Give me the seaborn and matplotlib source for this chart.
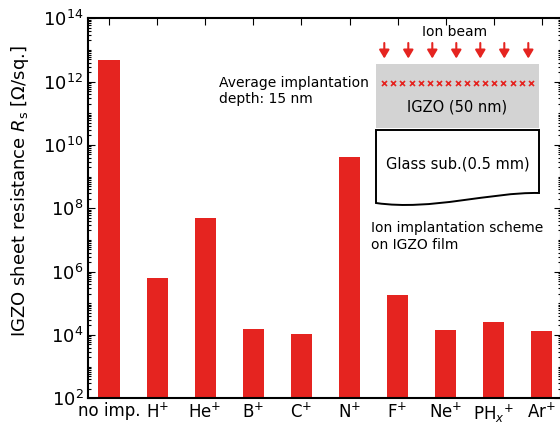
import numpy as np
import matplotlib
matplotlib.use("Agg")
import matplotlib.pyplot as plt
import pandas as pd
import seaborn as sns
from matplotlib.path import Path
from matplotlib.patches import PathPatch, Rectangle
from matplotlib.ticker import LogLocator, NullFormatter

# Sheet resistance of IGZO films after implantation of each ion species
ions = ["no imp.", "H$^{+}$", "He$^{+}$", "B$^{+}$", "C$^{+}$", "N$^{+}$",
        "F$^{+}$", "Ne$^{+}$", "PH$_{x}$$^{+}$", "Ar$^{+}$"]
sheet_res = [4.8e12, 6.2e5, 4.8e7, 1.54e4, 1.05e4, 4.1e9, 1.83e5, 1.4e4, 2.6e4, 1.38e4]
y_ticks = [1e2, 1e4, 1e6, 1e8, 1e10, 1e12, 1e14]

RED = "#e52420"

sns.set_style("ticks")
plt.rcParams["font.family"] = ["DejaVu Sans"]
plt.rcParams["text.color"] = "black"
plt.rcParams["xtick.color"] = "black"
plt.rcParams["ytick.color"] = "black"
plt.rcParams["axes.labelcolor"] = "black"

fig = plt.figure(figsize=(5.6, 4.26), dpi=100)
W, H = 560, 426
ax = fig.add_axes([87.5 / W, 1 - 398.3 / H, (561 - 87.5) / W, (398.3 - 18.3) / H])

df = pd.DataFrame({"ion": ions, "rs": sheet_res})
sns.barplot(data=df, x="ion", y="rs", color=RED, saturation=1, width=0.44,
            errorbar=None, ax=ax, linewidth=0)
ax.set_yscale("log")
ax.set_ylim(y_ticks[0], y_ticks[-1])
ax.set_yticks(y_ticks)
ax.yaxis.set_minor_locator(LogLocator(base=10, subs=np.arange(1, 10), numticks=100))
ax.yaxis.set_minor_formatter(NullFormatter())
ax.set_xlim(-0.447, 9.397)
ax.set_xlabel("")
ax.set_ylabel("")

for sp in ax.spines.values():
    sp.set_linewidth(1.5)
    sp.set_color("black")
ax.tick_params(axis="y", which="both", direction="in", left=True, right=True,
               labelsize=13, pad=3, width=0.8, colors="black")
ax.tick_params(axis="y", which="major", length=5)
ax.tick_params(axis="y", which="minor", length=2.5)
ax.tick_params(axis="x", direction="in", top=True, bottom=False, length=5,
               width=0.8, labelsize=12, pad=3, colors="black")

fig.text(20 / W, 1 - 191 / H, "IGZO sheet resistance $R_\\mathrm{s}$ [Ω/sq.]",
         rotation=90, ha="center", va="center", fontsize=13, rotation_mode="anchor",
         color="black")

# Overlay in pixel coordinates for the implantation scheme
ov = fig.add_axes([0, 0, 1, 1])
ov.set_xlim(0, W)
ov.set_ylim(H, 0)
ov.axis("off")
ov.patch.set_alpha(0)

ov.add_patch(Rectangle((376, 64), 163, 64, fc="#d3d3d3", ec="none"))
ov.plot(np.linspace(384, 531, 17), np.full(17, 83), ls="none", marker="x",
        color=RED, ms=3.6, mew=1.2)
for x in np.arange(384.3, 530, 24):
    ov.annotate("", xy=(x, 58.5), xytext=(x, 43),
                arrowprops=dict(arrowstyle="-|>,head_length=0.5,head_width=0.3",
                                color=RED, lw=1.5, shrinkA=0, shrinkB=0))

verts = [(376, 130), (539, 130), (539, 193),
         (490, 192), (432, 211), (376, 203), (376, 130)]
codes = [Path.MOVETO, Path.LINETO, Path.LINETO,
         Path.CURVE4, Path.CURVE4, Path.CURVE4, Path.CLOSEPOLY]
ov.add_patch(PathPatch(Path(verts, codes), fc="white", ec="black", lw=1.4))

ov.text(455, 32, "Ion beam", ha="center", va="center", fontsize=10)
ov.text(457, 107, "IGZO (50 nm)", ha="center", va="center", fontsize=10.5)
ov.text(458, 164, "Glass sub.(0.5 mm)", ha="center", va="center", fontsize=10.5)
ov.text(371, 236.5, "Ion implantation scheme\non IGZO film", ha="left",
        va="center", fontsize=10, linespacing=1.2)
ov.text(219, 91, "Average implantation\ndepth: 15 nm", ha="left",
        va="center", fontsize=10, linespacing=1.2)

fig.savefig("out.png", dpi=100)
